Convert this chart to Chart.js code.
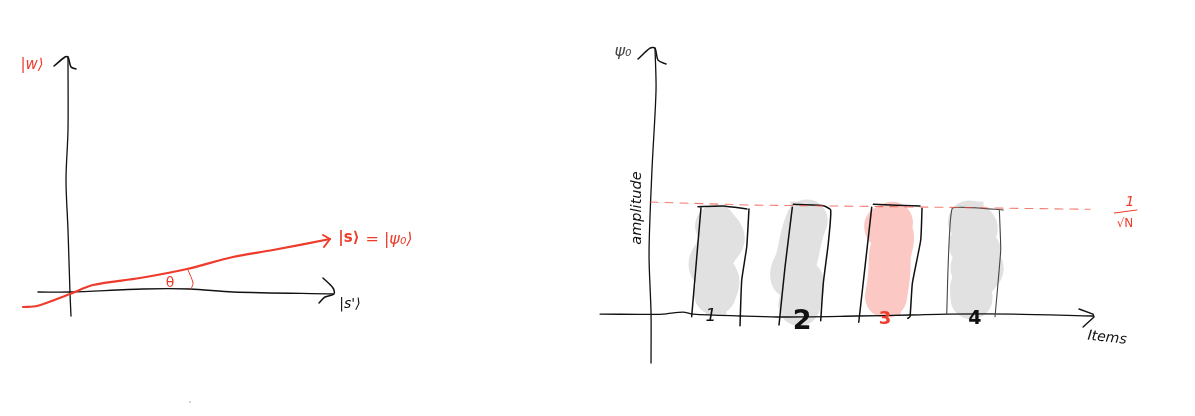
<!DOCTYPE html>
<html>
<head>
<meta charset="utf-8">
<title>Amplitudes</title>
<script src="https://cdn.jsdelivr.net/npm/chart.js@4"></script>
<style>
  html, body { margin: 0; padding: 0; background: #fff; overflow: hidden; }
  canvas { position: absolute; top: 0; }
  #vector-chart { left: 0; }
  #items-chart { left: 597px; }
</style>
</head>
<body>
<canvas id="vector-chart" width="597" height="416"></canvas>
<canvas id="items-chart" width="598" height="416"></canvas>
<script>
// left sketch: the state vector against |s'>
const vAxisX = [0.01, 0, -0.02, -0.04, -0.02, -0.02];
const vAxisY = [-0.25, -0.02, 0.61, 1.11, 1.61, 2.34];
const vArrowX = [-0.16, -0.05, -0.02, 0.01, 0.06];
const vArrowY = [2.25, 2.34, 2.34, 2.24, 2.22];
const hAxisX = [-0.32, 0, 0.73, 1.2, 1.63, 2.63];
const hAxisY = [-0.01, -0.01, 0.02, 0.02, -0.01, -0.03];
const hArrowX = [2.53, 2.63, 2.64, 2.55, 2.49];
const hArrowY = [0.13, 0.03, -0.03, -0.06, -0.12];
const rayX = [-0.47, -0.33, 0, 0.23, 0.7, 1.17, 1.63, 2.03, 2.6];
const rayY = [-0.16, -0.15, -0.03, 0.06, 0.13, 0.22, 0.34, 0.41, 0.52];
const rayArrowX = [2.53, 2.6, 2.54];
const rayArrowY = [0.56, 0.52, 0.44];
const angleX = [1.18, 1.23, 1.21];
const angleY = [0.21, 0.08, 0.02];
const specX = [1.2];
const specY = [-1.11];

// right sketch: amplitude per item
const itemLabels = ['1', '2', '3', '4'];
const itemX = [1, 1.98, 3.02, 3.98];
const amplitudes = [0.98, 1.03, 1.0, 1.03];
const meanX = [0.235, 1.394, 3.364, 5.334];
const meanY = [1.027, 1.0, 0.982, 0.961];

const ampAxisX = [0.293, 0.305, 0.258, 0.224, 0.247, 0.247];
const ampAxisY = [2.427, 2.045, 1.318, 0.564, 0.018, -0.436];
const ampArrowX = [0.096, 0.235, 0.293, 0.328, 0.421];
const ampArrowY = [2.327, 2.427, 2.427, 2.318, 2.282];
const itemAxisX = [-0.344, 0.119, 0.386, 0.618, 0.733, 1.278, 1.707, 2.634, 3.248, 3.677, 4.441, 5.368];
const itemAxisY = [0.009, 0.006, 0.009, 0.027, 0.009, -0.009, -0.018, -0.009, 0, 0.009, 0.009, -0.009];
const itemArrowX = [5.206, 5.368, 5.38, 5.253];
const itemArrowY = [0.055, 0.009, -0.018, -0.109];
const fractionX = [5.612, 5.878];
const fractionY = [0.927, 0.955];

// marker scribbles over the bars
const scribble1X = [1, 1.09, 1.008, 0.925, 1.027, 0.988];
const scribble1Y = [0.81, 0.697, 0.591, 0.455, 0.318, 0.191];
const scribble2X = [2.051, 2, 1.935, 1.873, 2.005, 1.965];
const scribble2Y = [0.86, 0.743, 0.515, 0.348, 0.303, 0.091];
const scribble3X = [3.039, 2.96, 3.05, 3.016, 3.005, 2.97];
const scribble3Y = [0.84, 0.8, 0.727, 0.545, 0.364, 0.164];
const scribble4X = [3.93, 4.021, 3.943, 4.059, 3.96, 4.09, 3.963, 3.96];
const scribble4Y = [0.85, 0.788, 0.636, 0.575, 0.425, 0.425, 0.273, 0.152];

// pen outlines of the bars, null lifts the pen
const outlineX = [
  0.826, 0.718, null, 0.791, 1.081, 1.359, null, 1.382, 1.356, 1.298, 1.278, null,
  1.884, 1.8, 1.73, null, 1.896, 2.243, 2.329, 2.301, 2.243, 2.213, null,
  2.804, 2.654, null, 2.823, 3.364, null, 3.387, 3.372, 3.275, 3.248, 3.221
];
const outlineY = [
  0.979, -0.015, null, 0.985, 0.991, 0.964, null, 0.964, 0.621, 0.318, -0.097, null,
  0.979, 0.439, -0.091, null, 1.006, 0.994, 0.955, 0.652, 0.288, -0.052, null,
  0.979, -0.066, null, 1.006, 0.991, null, 0.97, 0.682, 0.288, -0.015, -0.03
];
const outline4X = [3.673, 3.738, 4.329, null, 4.283, 4.299, 4.233];
const outline4Y = [0.006, 0.97, 0.955, null, 0.955, 0.591, -0.015];

const RED = '#ee3b2b';
const INK = '#111';
const GREY_FILL = '#e1e1e1';
const PINK_FILL = '#fbc8c4';
const PEN_FONT = '"DejaVu Sans"';

function pts(xs, ys) {
    return xs.map((x, i) => ({ x: x, y: ys[i] }));
}

function pen(xs, ys, color, width, extra) {
    return Object.assign({
        type: 'line',
        data: pts(xs, ys),
        borderColor: color,
        borderWidth: width,
        borderCapStyle: 'round',
        borderJoinStyle: 'round',
        pointRadius: 0,
        tension: 0.3,
        fill: false,
        spanGaps: false,
        clip: false,
        order: 1
    }, extra);
}

// writes the hand labels at data positions
const notesPlugin = {
    id: 'notes',
    afterDatasetsDraw(chart, args, opts) {
        const ctx = chart.ctx;
        (opts.items || []).forEach(n => {
            ctx.save();
            ctx.translate(chart.scales.x.getPixelForValue(n.x), chart.scales.y.getPixelForValue(n.y));
            if (n.rotate) ctx.rotate(n.rotate * Math.PI / 180);
            ctx.font = n.font;
            ctx.fillStyle = n.color;
            ctx.textAlign = 'center';
            ctx.textBaseline = 'middle';
            ctx.fillText(n.text, 0, 0);
            ctx.restore();
        });
    }
};

function buildChart(id, datasets, range, notes) {
    return new Chart(document.getElementById(id), {
        type: 'line',
        data: { datasets: datasets },
        plugins: [notesPlugin],
        options: {
            responsive: false,
            animation: false,
            layout: { autoPadding: false, padding: 0 },
            parsing: { xAxisKey: 'x', yAxisKey: 'y' },
            scales: {
                x: { type: 'linear', display: false, offset: false, min: range.xMin, max: range.xMax },
                y: { type: 'linear', display: false, min: range.yMin, max: range.yMax }
            },
            plugins: {
                legend: { display: false },
                tooltip: { enabled: false },
                notes: { items: notes }
            }
        }
    });
}

buildChart('vector-chart', [
    pen(rayX, rayY, RED, 2.2, { order: 0 }),
    pen(rayArrowX, rayArrowY, RED, 2, { order: 0, tension: 0 }),
    pen(angleX, angleY, RED, 1),
    pen(vAxisX, vAxisY, INK, 1.3),
    pen(vArrowX, vArrowY, INK, 1.5),
    pen(hAxisX, hAxisY, INK, 1.3),
    pen(hArrowX, hArrowY, INK, 1.5),
    pen(specX, specY, '#888', 0, { showLine: false, pointRadius: 0.7, pointBackgroundColor: '#888', pointBorderWidth: 0 })
], { xMin: -0.7, xMax: 5.27, yMin: -1.25, yMax: 2.91 }, [
    { text: '|w\u27E9', x: -0.38, y: 2.26, font: 'oblique 15px ' + PEN_FONT, color: RED },
    { text: '|s\u27E9', x: 2.79, y: 0.53, font: 'bold 15px ' + PEN_FONT, color: RED },
    { text: '= |\u03C8\u2080\u27E9', x: 3.19, y: 0.51, font: 'oblique 16px ' + PEN_FONT, color: RED },
    { text: '\u03B8', x: 1.0, y: 0.08, font: '14px ' + PEN_FONT, color: RED },
    { text: "|s'\u27E9", x: 2.8, y: -0.13, font: 'oblique 14px ' + PEN_FONT, color: INK }
]);

const scribbleStyle = { order: 5, tension: 0.4 };

buildChart('items-chart', [
    {
        type: 'bar',
        data: pts(itemX, amplitudes),
        backgroundColor: itemLabels.map(l => l === '3' ? PINK_FILL : GREY_FILL),
        barThickness: 20,
        order: 6
    },
    pen(scribble1X, scribble1Y, GREY_FILL, 42, scribbleStyle),
    pen(scribble2X, scribble2Y, GREY_FILL, 42, scribbleStyle),
    pen(scribble3X, scribble3Y, PINK_FILL, 42, scribbleStyle),
    pen(scribble4X, scribble4Y, GREY_FILL, 42, scribbleStyle),
    pen(outlineX, outlineY, INK, 1.5, { tension: 0.15 }),
    pen(outline4X, outline4Y, '#444', 1.1, { tension: 0.1 }),
    pen(meanX, meanY, 'rgba(238,80,65,0.75)', 1.1, { order: 0, borderDash: [8, 7], tension: 0 }),
    pen(ampAxisX, ampAxisY, INK, 1.3),
    pen(ampArrowX, ampArrowY, INK, 1.5),
    pen(itemAxisX, itemAxisY, INK, 1.3),
    pen(itemArrowX, itemArrowY, INK, 1.4, { tension: 0 }),
    pen(fractionX, fractionY, RED, 1, { tension: 0 })
], { xMin: -0.379, xMax: 6.55, yMin: -0.918, yMax: 2.864 }, [
    { text: '\u03C8\u2080', x: -0.078, y: 2.39, font: 'oblique 16px ' + PEN_FONT, color: '#444' },
    { text: 'amplitude', x: 0.085, y: 0.973, font: 'oblique 14.5px ' + PEN_FONT, color: INK, rotate: -90 },
    { text: itemLabels[0], x: 0.942, y: -0.018, font: 'oblique 17px ' + PEN_FONT, color: INK },
    { text: itemLabels[1], x: 1.997, y: -0.064, font: 'bold 27px ' + PEN_FONT, color: INK },
    { text: itemLabels[2], x: 2.958, y: -0.036, font: 'bold 18px ' + PEN_FONT, color: RED },
    { text: itemLabels[3], x: 4.0, y: -0.036, font: 'bold 19px ' + PEN_FONT, color: INK },
    { text: '1', x: 5.797, y: 1.027, font: 'oblique 14px ' + PEN_FONT, color: RED },
    { text: '\u221AN', x: 5.739, y: 0.827, font: '12px ' + PEN_FONT, color: RED },
    { text: 'Items', x: 5.531, y: -0.209, font: 'oblique 14px ' + PEN_FONT, color: INK, rotate: 6 }
]);
</script>
</body>
</html>
